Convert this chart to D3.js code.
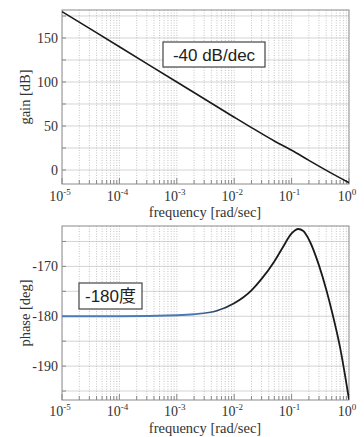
<!DOCTYPE html>
<html>
<head>
<meta charset="utf-8">
<script src="https://cdn.jsdelivr.net/npm/d3@7"></script>
<style>
  body { margin: 0; background: #fff; }
  svg { display: block; }
  .tick-label { font-family: "Liberation Serif", "DejaVu Serif", serif; font-size: 14px; fill: #333; }
  .axis-title { font-family: "Liberation Serif", "DejaVu Serif", serif; font-size: 14.5px; fill: #333; }
  .note { font-family: "Liberation Sans", Arial, sans-serif; font-size: 17px; fill: #222; }
</style>
</head>
<body>
<div id="chart"></div>
<script>
// gain plot data
const gainFreq = [1e-5, 1e-4, 1e-3, 1e-2, 2e-2, 5e-2, 0.1, 0.2, 0.5, 1]
const gainDb = [180, 140, 100, 60, 48.2, 33, 22.5, 11, -3.8, -14.4]

// phase plot data
const phaseFreq = [1e-5, 1e-4, 1e-3, 2e-3, 5e-3, 1e-2, 2e-2, 3e-2, 5e-2, 7e-2, 0.1, 0.13, 0.16, 0.2, 0.3, 0.4, 0.5, 0.7, 1]
const phaseDeg = [-180, -180, -179.8, -179.6, -178.9, -177.4, -174.8, -172.5, -169, -166.2, -163.4, -162.5, -162.9, -164.6, -169.8, -174.6, -178.9, -186.3, -196.7]

// ticks
const freqTicks = [1e-5, 1e-4, 1e-3, 1e-2, 1e-1, 1]
const freqTickExp = ["-5", "-4", "-3", "-2", "-1", "0"]
const gainTicks = [0, 50, 100, 150]
const gainGrid = [-25, 0, 25, 50, 75, 100, 125, 150, 175]
const phaseTicks = [-190, -180, -170]
const phaseGrid = [-195, -190, -185, -180, -175, -170, -165]

const width = 364, height = 437
const left = 62, right = 349

const svg = d3.select("#chart").append("svg")
    .attr("width", width)
    .attr("height", height)

// minor decade lines 1..9 x 10^k
const minorFreqs = []
for (let k = -5; k < 0; k++) {
    for (let m = 1; m <= 9; m++) minorFreqs.push(m * Math.pow(10, k))
}
minorFreqs.push(1)

function makePanel(cfg) {
    const x = d3.scaleLog().domain([1e-5, 1]).range([left, right])
    const y = d3.scaleLinear().domain(cfg.domain).range([cfg.bottom, cfg.top])
    const g = svg.append("g")

    // clip
    const clipId = "clip-" + cfg.name
    g.append("clipPath").attr("id", clipId)
        .append("rect")
        .attr("x", left).attr("y", cfg.top)
        .attr("width", right - left).attr("height", cfg.bottom - cfg.top)

    const grid = g.append("g").attr("clip-path", `url(#${clipId})`)

    // horizontal grid
    grid.selectAll(".hgrid")
        .data(cfg.grid)
        .enter().append("line")
        .attr("x1", left).attr("x2", right)
        .attr("y1", d => y(d)).attr("y2", d => y(d))
        .attr("stroke", "#d4d4d4")
        .attr("stroke-width", 1)

    // vertical grid (dotted)
    grid.selectAll(".vgrid")
        .data(minorFreqs)
        .enter().append("line")
        .attr("x1", d => x(d)).attr("x2", d => x(d))
        .attr("y1", cfg.top).attr("y2", cfg.bottom)
        .attr("stroke", "#b8b8b8")
        .attr("stroke-width", 0.8)
        .attr("stroke-dasharray", "1,1.5")

    // small ticks inside the frame
    g.selectAll(".xtick-b")
        .data(minorFreqs)
        .enter().append("line")
        .attr("x1", d => x(d)).attr("x2", d => x(d))
        .attr("y1", cfg.bottom).attr("y2", d => cfg.bottom - (freqTicks.includes(d) ? 6 : 4))
        .attr("stroke", "#888")
    g.selectAll(".ytick-l")
        .data(cfg.grid.filter(d => d >= cfg.domain[0] && d <= cfg.domain[1]))
        .enter().append("line")
        .attr("x1", left).attr("x2", left + 4)
        .attr("y1", d => y(d)).attr("y2", d => y(d))
        .attr("stroke", "#888")

    // frame
    g.append("rect")
        .attr("x", left).attr("y", cfg.top)
        .attr("width", right - left).attr("height", cfg.bottom - cfg.top)
        .attr("fill", "none")
        .attr("stroke", "#8a8a8a")
        .attr("stroke-width", 1)

    // x tick labels with superscripts
    const xl = g.selectAll(".xlabel")
        .data(freqTicks)
        .enter().append("text")
        .attr("class", "tick-label")
        .attr("x", d => x(d) - 2)
        .attr("y", cfg.bottom + cfg.tickOffset)
        .attr("text-anchor", "middle")
    xl.append("tspan").text("10")
    xl.append("tspan")
        .attr("dy", -6)
        .attr("font-size", "9px")
        .text((d, i) => freqTickExp[i])

    // axis titles
    g.append("text")
        .attr("class", "axis-title")
        .attr("x", 205)
        .attr("y", cfg.bottom + cfg.titleOffset)
        .attr("text-anchor", "middle")
        .text("frequency [rad/sec]")
    g.append("text")
        .attr("class", "axis-title")
        .attr("transform", `translate(25,${(cfg.top + cfg.bottom) / 2}) rotate(-90)`)
        .attr("text-anchor", "middle")
        .attr("dy", "0.35em")
        .text(cfg.ylabel)

    // y tick labels
    g.selectAll(".ylabel")
        .data(cfg.ticks)
        .enter().append("text")
        .attr("class", "tick-label")
        .attr("x", left - 4)
        .attr("y", d => y(d))
        .attr("dy", "0.35em")
        .attr("text-anchor", "end")
        .text(d => d)

    return { g, x, y, clipId }
}

// ------- GAIN -------
const top1 = makePanel({
    name: "gain", top: 10, bottom: 184, domain: [-15.9, 181.8], tickOffset: 17, titleOffset: 33,
    ticks: gainTicks, grid: gainGrid, ylabel: "gain [dB]"
})
const gainLine = d3.line()
    .x((d, i) => top1.x(gainFreq[i]))
    .y(d => top1.y(d))
    .curve(d3.curveMonotoneX)
top1.g.append("path")
    .attr("clip-path", `url(#${top1.clipId})`)
    .attr("d", gainLine(gainDb))
    .attr("fill", "none")
    .attr("stroke", "#1a1a1a")
    .attr("stroke-width", 1.6)

// note box
const n1 = top1.g.append("g").attr("transform", "translate(163,42)")
n1.append("rect").attr("width", 102).attr("height", 25)
    .attr("fill", "#fff").attr("stroke", "#444").attr("stroke-width", 1.2)
n1.append("text").attr("class", "note")
    .attr("x", 51).attr("y", 18.5).attr("text-anchor", "middle")
    .text("-40 dB/dec")

// ------- PHASE -------
const bot = makePanel({
    name: "phase", top: 226, bottom: 400, domain: [-196.8, -161.9], tickOffset: 16, titleOffset: 33,
    ticks: phaseTicks, grid: phaseGrid, ylabel: "phase [deg]"
})

// blue to black fade along frequency
const grad = svg.append("defs").append("linearGradient")
    .attr("id", "phaseGrad")
    .attr("gradientUnits", "userSpaceOnUse")
    .attr("x1", bot.x(2e-3)).attr("x2", bot.x(1.2e-2))
    .attr("y1", 0).attr("y2", 0)
grad.append("stop").attr("offset", 0).attr("stop-color", "#4a78b8")
grad.append("stop").attr("offset", 1).attr("stop-color", "#1a1a1a")

const phaseLine = d3.line()
    .x((d, i) => bot.x(phaseFreq[i]))
    .y(d => bot.y(d))
    .curve(d3.curveMonotoneX)
bot.g.append("path")
    .attr("clip-path", `url(#${bot.clipId})`)
    .attr("d", phaseLine(phaseDeg))
    .attr("fill", "none")
    .attr("stroke", "url(#phaseGrad)")
    .attr("stroke-width", 1.8)

const n2 = bot.g.append("g").attr("transform", "translate(79,283)")
n2.append("rect").attr("width", 63).attr("height", 26)
    .attr("fill", "#fff").attr("stroke", "#444").attr("stroke-width", 1.2)
n2.append("text").attr("class", "note")
    .attr("x", 31.5).attr("y", 19).attr("text-anchor", "middle")
    .style("font-family", "'Liberation Sans', 'Noto Sans CJK JP', sans-serif")
    .text("-180度")
</script>
</body>
</html>
